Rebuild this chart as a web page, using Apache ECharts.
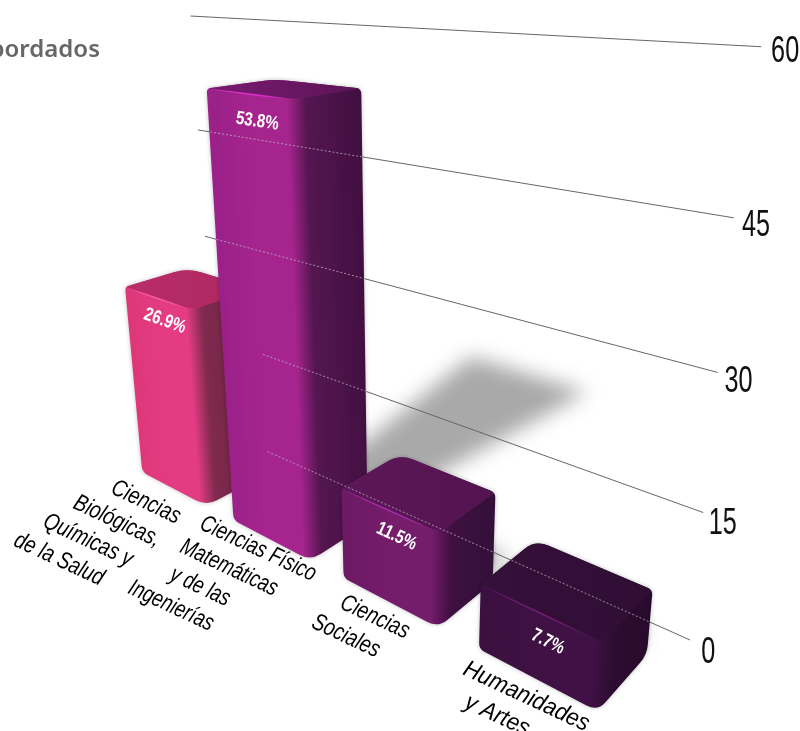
<!DOCTYPE html>
<html>
<head>
<meta charset="utf-8">
<style>html,body{margin:0;padding:0;background:#fff}#chart{width:800px;height:731px}</style>
<script src="https://cdn.jsdelivr.net/npm/echarts@6/dist/echarts.min.js"></script>
</head>
<body>
<div id="chart"></div>
<script>
// Chart values
const categories = [
  ['Ciencias', 'Biológicas,', 'Químicas y', 'de la Salud'],
  ['Ciencias Físico', 'Matemáticas', 'y de las', 'Ingenierías'],
  ['Ciencias', 'Sociales'],
  ['Humanidades', 'y Artes']
];
const shares = [26.9, 53.8, 11.5, 7.7];
const valueTicks = [0, 15, 30, 45, 60];
const headingText = 'abordados';

// Extent of each reference line along the category direction
const lineStart = [0.118, 0.118, -0.46, -0.46, -0.46];
const lineEnd = [3.487, 3.487, 3.487, 3.487, 3.53];

// Small placement and width corrections for each category caption
const captionNudge = [[-11, 2], [3, -5], [0, -2], [2, -4]];
const captionWidth = [0.8, 0.77, 0.8, 0.92];

// Colours of each bar
const barColors = [
  { dim: '#dd3779', front: '#e43c83', sideA: '#7f2a4e', sideB: '#6a2040', top: '#b92c68', topB: '#ae2860', glint: '#f8589f' },
  { dim: '#9a2189', front: '#a6248e', sideA: '#541650', sideB: '#420f41', top: '#7a1a72', topB: '#5c1456', glint: '#d82fc4' },
  { dim: '#6c1a64', front: '#751c6b', sideA: '#3f1040', sideB: '#33103a', top: '#5e1758', topB: '#521450', glint: '#a82aa6' },
  { dim: '#3a1040', front: '#401144', sideA: '#2c0c30', sideB: '#280b2c', top: '#35103a', topB: '#300e34', glint: '#701c76' }
];

// Vanishing-point perspective camera: grid pixels plus a depth term map to the screen
const cam = {
  origin: [690, 640], vpX: [-832, -39], vpY: [409, 3345], vpZ: [1268, -56],
  kX: 0.001, kY: 0.0003, xRef: 554.5, yRef: 700
};
const FRONT = -0.107, BACK = -0.035, HALF = 0.36;
const FONT = '"Liberation Sans",sans-serif';

function project(pt, c) {
  const a = (cam.xRef - pt[0]) * cam.kX;
  const b = -(cam.yRef - pt[1]) * cam.kY;
  const w = 1 + a + b + c;
  return [0, 1].map(k => (cam.origin[k] + a * cam.vpX[k] + b * cam.vpY[k] + c * cam.vpZ[k]) / w);
}
const at = (api, x, v, c) => project(api.coord([x, v]), c);
const lerp = (p, q, t) => [p[0] + (q[0] - p[0]) * t, p[1] + (q[1] - p[1]) * t];
const dist = (p, q) => Math.hypot(p[0] - q[0], p[1] - q[1]);
const fmt = n => n.toFixed(2);

// Closed outline with a rounded corner of the given radius at every vertex
function roundedPath(pts, radii) {
  let d = '';
  pts.forEach((p, i) => {
    const prev = pts[(i + pts.length - 1) % pts.length], next = pts[(i + 1) % pts.length];
    const r = radii[i];
    const a = lerp(p, prev, Math.min(0.45, r / dist(p, prev)));
    const b = lerp(p, next, Math.min(0.45, r / dist(p, next)));
    d += (i ? 'L' : 'M') + fmt(a[0]) + ' ' + fmt(a[1]) + 'Q' + fmt(p[0]) + ' ' + fmt(p[1]) + ' ' + fmt(b[0]) + ' ' + fmt(b[1]);
  });
  return d + 'Z';
}

function barCorners(api, i, v) {
  const L = i - HALF, R = i + HALF;
  return {
    tfl: at(api, L, v, FRONT), tfr: at(api, R, v, FRONT), tbr: at(api, R, v, BACK), tbl: at(api, L, v, BACK),
    bfl: at(api, L, 0, FRONT), bfr: at(api, R, 0, FRONT), bbr: at(api, R, 0, BACK)
  };
}
const outline = c => [c.tfl, c.tbl, c.tbr, c.bbr, c.bfr, c.bfl];

function inside(p, poly) {
  let hit = false;
  for (let i = 0, j = poly.length - 1; i < poly.length; j = i++) {
    if ((poly[i][1] > p[1]) !== (poly[j][1] > p[1]) &&
        p[0] < (poly[j][0] - poly[i][0]) * (p[1] - poly[i][1]) / (poly[j][1] - poly[i][1]) + poly[i][0]) hit = !hit;
  }
  return hit;
}

// Body of a bar, top face and the bright rim along its front edge
function renderBar(params, api) {
  const i = api.value(0), v = api.value(1), col = barColors[i];
  const c = barCorners(api, i, v);
  const ml = lerp(c.tfl, c.bfl, 0.5), fm = lerp(c.tfr, c.bfr, 0.5), rm = lerp(c.tbr, c.bbr, 0.5);
  const dx = c.bfr[0] - c.tfr[0], dy = c.bfr[1] - c.tfr[1], len = Math.hypot(dx, dy);
  const n = [dy / len, -dx / len];
  const span = (rm[0] - ml[0]) * n[0] + (rm[1] - ml[1]) * n[1];
  const edge = ((fm[0] - ml[0]) * n[0] + (fm[1] - ml[1]) * n[1]) / span;
  const fill = new echarts.graphic.LinearGradient(
    ml[0], ml[1], ml[0] + n[0] * span, ml[1] + n[1] * span,
    [
      { offset: 0, color: col.dim },
      { offset: Math.max(0.02, edge * 0.5), color: col.front },
      { offset: edge - 0.05, color: col.front },
      { offset: edge + 0.08, color: col.sideA },
      { offset: 1, color: col.sideB }
    ], true);
  const topFill = new echarts.graphic.LinearGradient(c.tfl[0], 0, c.tbr[0], 0, [
    { offset: 0, color: col.top }, { offset: 1, color: col.topB }
  ], true);
  const mid = lerp(c.tfl, c.tfr, 0.5);
  const glint = new echarts.graphic.LinearGradient(c.tfl[0], 0, c.tfr[0], 0, [
    { offset: 0, color: col.glint }, { offset: 0.7, color: col.glint }, { offset: 1, color: col.front }
  ], true);
  return {
    type: 'group',
    children: [
      { type: 'path', shape: { pathData: roundedPath(outline(c), [4, 14, 5, 10, 12, 6]) },
        style: { fill, shadowBlur: 4, shadowColor: 'rgba(0,0,0,0.25)' } },
      { type: 'path', shape: { pathData: roundedPath([c.tfl, c.tbl, c.tbr, c.tfr], [4, 14, 5, 10]) },
        style: { fill: topFill } },
      { type: 'path', shape: { pathData: 'M' + fmt(c.tfl[0]) + ' ' + fmt(c.tfl[1]) +
          'Q' + fmt(mid[0]) + ' ' + fmt(mid[1] - 1) + ' ' + fmt(c.tfr[0]) + ' ' + fmt(c.tfr[1]) +
          'Q' + fmt(mid[0]) + ' ' + fmt(mid[1] + 2.5) + ' ' + fmt(c.tfl[0]) + ' ' + fmt(c.tfl[1]) + 'Z' },
        style: { fill: glint } }
    ]
  };
}

// Soft shadow thrown on the floor; short bars keep theirs tucked behind the body
function renderShadow(params, api) {
  const i = api.value(0), v = api.value(1);
  const reach = BACK + 0.0068 * v * Math.sqrt(v / 53.8), away = 3000;
  const drift = v * 0.0028, spread = 0.26 + v * 0.0065;
  const pts = [
    at(api, i - HALF + 0.1, 0, BACK),
    at(api, i - drift - spread, 0, reach),
    at(api, i - drift + spread, 0, reach),
    at(api, i + HALF - 0.1, 0, BACK)
  ].map(p => [p[0] + away, p[1]]);
  return { type: 'polygon', shape: { points: pts },
    style: { fill: '#a9a9a9', shadowColor: '#a9a9a9', shadowBlur: 20, shadowOffsetX: -away } };
}

function lineEnds(api, idx) {
  const v = valueTicks[idx];
  return [at(api, lineStart[idx], v, 0), at(api, lineEnd[idx], v, 0)];
}

function renderLine(params, api) {
  const [p, q] = lineEnds(api, params.dataIndex);
  return { type: 'line', shape: { x1: p[0], y1: p[1], x2: q[0], y2: q[1] },
    style: { stroke: '#666', lineWidth: 1 } };
}

// Where a reference line passes in front of a bar it is drawn dotted
function renderDots(params, api) {
  const [p, q] = lineEnds(api, params.dataIndex);
  const polys = shares.map((v, i) => outline(barCorners(api, i, v)));
  const steps = 400, children = [];
  let from = null;
  for (let s = 0; s <= steps; s++) {
    const pt = lerp(p, q, s / steps);
    const on = polys.some(poly => inside(pt, poly));
    if (on && !from) from = pt;
    if (from && (!on || s === steps)) {
      children.push({ type: 'line', shape: { x1: from[0], y1: from[1], x2: pt[0], y2: pt[1] },
        style: { stroke: 'rgba(190,185,195,0.75)', lineWidth: 1, lineDash: [2, 2] } });
      from = null;
    }
  }
  return { type: 'group', children };
}

function renderShareLabel(params, api) {
  const i = api.value(0), v = api.value(1);
  const p = at(api, i + 0.06, v - 2.8, FRONT), e = at(api, i - 0.04, v - 2.8, FRONT);
  const angle = Math.atan2(p[1] - e[1], p[0] - e[0]);
  return { type: 'text', x: p[0], y: p[1], rotation: -angle, scaleX: 0.8,
    style: { text: v + '%', fill: '#fff', align: 'center', verticalAlign: 'middle',
      font: 'bold 19px ' + FONT } };
}

function renderTick(params, api) {
  const idx = params.dataIndex, v = api.value(0);
  const p = at(api, lineEnd[idx] + 0.11, v, 0);
  return { type: 'text', x: p[0] - 1, y: p[1] + 4, scaleX: 0.7,
    style: { text: String(v), fill: '#111', align: 'center', verticalAlign: 'middle', font: '36px ' + FONT } };
}

function renderCategory(params, api) {
  const i = params.dataIndex, n = captionNudge[i];
  const p = at(api, i + 0.04, 0, -0.13);
  return { type: 'group', children: categories[i].map((t, k) => ({
    type: 'text', x: p[0] + n[0] - 29 * k, y: p[1] + n[1] + 19 * k, rotation: -25 * Math.PI / 180, scaleX: captionWidth[i],
    style: { text: t, fill: '#000', align: 'center', verticalAlign: 'middle', font: 'italic 24px ' + FONT }
  })) };
}

const barData = shares.map((v, i) => [i, v]);
const catData = categories.map((c, i) => [i, 0]);
const custom = (name, z, data, renderItem) => ({
  type: 'custom', name, z, data, renderItem, coordinateSystem: 'cartesian2d', silent: true,
  clip: false, encode: { x: 0, y: 1 }
});

const chart = echarts.init(document.getElementById('chart'), null, { renderer: 'canvas' });
chart.setOption({
  animation: false,
  backgroundColor: '#fff',
  grid: { left: 100, top: 100, width: 456, height: 600 },
  xAxis: { type: 'value', min: -0.5, max: 3.5, show: false },
  yAxis: { type: 'value', min: 0, max: 60, interval: 15, show: false },
  graphic: [{ type: 'text', right: 700, top: 38, silent: true,
    style: { text: headingText, fill: '#666', font: '600 24px "Noto Sans",sans-serif' } }],
  series: [
    custom('shadow', 1, barData, renderShadow),
    custom('lines', 2, valueTicks.map(v => [0, v]), renderLine),
    custom('bars', 3, barData, renderBar),
    custom('dots', 4, valueTicks.map(v => [0, v]), renderDots),
    custom('shares', 5, barData, renderShareLabel),
    custom('ticks', 5, valueTicks.map(v => [v, 0]), renderTick),
    custom('categories', 5, catData, renderCategory)
  ]
});
</script>
</body>
</html>
